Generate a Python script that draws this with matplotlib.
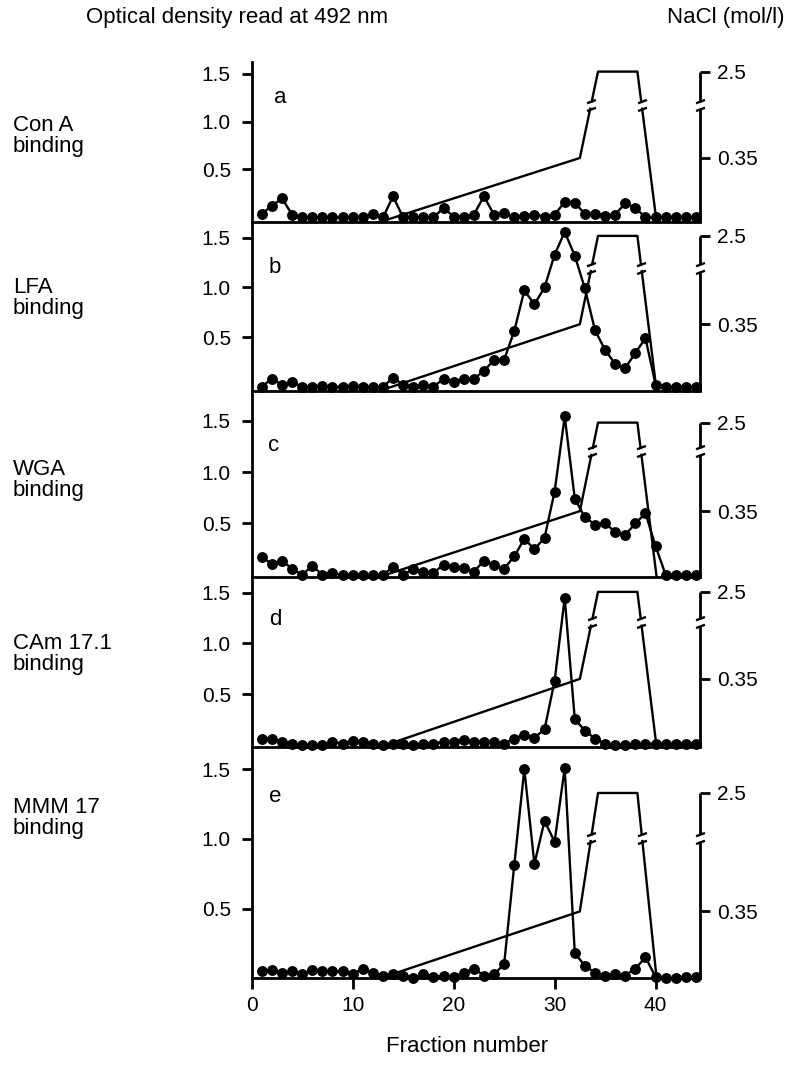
import numpy as np
import matplotlib
matplotlib.use("Agg")
import matplotlib.pyplot as plt
from matplotlib.path import Path

plt.rcParams['font.family'] = ['Liberation Sans', 'DejaVu Sans']

# fraction numbers
fractions = np.arange(1, 45)

# optical density at 492 nm, one list per panel
od_con_a = [0.04, 0.12, 0.20, 0.03, 0.0, 0.0, 0.0, 0.0, 0.0, 0.0,
            0.0, 0.04, 0.0, 0.22, 0.0, 0.0, 0.0, 0.0, 0.10, 0.01,
            0.01, 0.03, 0.22, 0.03, 0.05, 0.0, 0.02, 0.03, 0.01, 0.03,
            0.16, 0.15, 0.04, 0.04, 0.02, 0.03, 0.15, 0.10, 0.0, 0.0,
            0.0, 0.0, 0.0, 0.0]
od_lfa = [0.0, 0.08, 0.02, 0.05, 0.0, 0.0, 0.01, 0.0, 0.0, 0.01,
          0.0, 0.0, 0.0, 0.09, 0.02, 0.0, 0.02, 0.0, 0.08, 0.05,
          0.08, 0.08, 0.16, 0.27, 0.27, 0.56, 0.97, 0.83, 1.00, 1.33,
          1.56, 1.32, 0.99, 0.57, 0.37, 0.23, 0.19, 0.34, 0.49, 0.02,
          0.0, 0.0, 0.0, 0.0]
od_wga = [0.17, 0.11, 0.14, 0.06, 0.0, 0.09, 0.0, 0.02, 0.0, 0.0,
          0.0, 0.0, 0.0, 0.08, 0.0, 0.06, 0.03, 0.02, 0.10, 0.08,
          0.07, 0.03, 0.14, 0.10, 0.06, 0.18, 0.35, 0.25, 0.36, 0.81,
          1.54, 0.74, 0.56, 0.49, 0.50, 0.42, 0.39, 0.50, 0.60, 0.28,
          0.0, 0.0, 0.0, 0.0]
od_cam = [0.06, 0.06, 0.03, 0.01, 0.0, 0.0, 0.0, 0.03, 0.01, 0.04,
          0.03, 0.01, 0.0, 0.01, 0.01, 0.0, 0.01, 0.01, 0.03, 0.03,
          0.05, 0.03, 0.03, 0.03, 0.01, 0.06, 0.10, 0.07, 0.15, 0.63,
          1.45, 0.25, 0.14, 0.06, 0.01, 0.0, 0.0, 0.01, 0.01, 0.01,
          0.01, 0.01, 0.01, 0.01]
od_mmm = [0.05, 0.06, 0.04, 0.05, 0.03, 0.06, 0.05, 0.05, 0.05, 0.03,
          0.07, 0.04, 0.02, 0.03, 0.02, 0.0, 0.03, 0.01, 0.02, 0.01,
          0.04, 0.07, 0.02, 0.03, 0.10, 0.81, 1.50, 0.82, 1.13, 0.98,
          1.51, 0.18, 0.09, 0.04, 0.02, 0.03, 0.02, 0.07, 0.15, 0.01,
          0.0, 0.0, 0.01, 0.01]

panel_od = [od_con_a, od_lfa, od_wga, od_cam, od_mmm]
panel_letters = ['a', 'b', 'c', 'd', 'e']
panel_names = ['Con A\nbinding', 'LFA\nbinding', 'WGA\nbinding',
               'CAm 17.1\nbinding', 'MMM 17\nbinding']

# NaCl elution profile (fraction, mol/l)
nacl_fraction = [12.7, 32.5, 34.3, 38.2, 40.1]
nacl_conc = [0.0, 0.35, 2.5, 2.5, 0.0]

od_ticks = [0.5, 1.0, 1.5]
od_tick_labels = ['0.5', '1.0', '1.5']
frac_ticks = [0, 10, 20, 30, 40]

# layout (pixels of the 789x1068 figure)
W, H = 789, 1068
X0, X1 = 251.7, 700
tops = [62, 222, 390.7, 576.7, 747]
bottoms = [222, 390.7, 576.7, 747, 978.3]
ylims = [(-0.047, 1.62), (-0.04, 1.66), (-0.017, 1.79), (-0.023, 1.66), (0.0, 1.66)]
# where 0.35, 2.5 and the axis break sit on each panel's right axis (OD units)
nacl_pos = [(0.62, 1.52, 1.17), (0.63, 1.52, 1.20), (0.62, 1.48, 1.20),
            (0.65, 1.51, 1.21), (0.48, 1.33, 1.01)]
letter_pos = [(0.063, 0.78), (0.052, 0.733), (0.048, 0.708), (0.052, 0.746), (0.052, 0.784)]
name_y = [136, 298, 480, 654, 818]

LW = 1.7
SPINE_LW = 2.0
FS = 15
TFS = 16

break_mark = Path([(-1, -1.25), (1, -0.5), (-1, 0.5), (1, 1.25)],
                  [Path.MOVETO, Path.LINETO, Path.MOVETO, Path.LINETO])

fig = plt.figure(figsize=(W / 100, H / 100), dpi=100)


def x_at(p, q, y):
    return p[0] + (y - p[1]) * (q[0] - p[0]) / (q[1] - p[1])


for i in range(5):
    top, bot = tops[i], bottoms[i]
    ax = fig.add_axes([X0 / W, 1 - bot / H, (X1 - X0) / W, (bot - top) / H])
    ylo, yhi = ylims[i]
    ax.set_xlim(0, 44.4)
    ax.set_ylim(ylo, yhi)
    px_per_unit = (bot - top) / (yhi - ylo)
    d = 3.5 / px_per_unit

    # binding curve
    ax.plot(fractions, panel_od[i], color='black', lw=LW, marker='o', ms=6.8,
            clip_on=False, zorder=4)

    # NaCl gradient, drawn on the broken right scale
    y035, y25, ybrk = nacl_pos[i]
    ny = np.interp(nacl_conc, [0.0, 0.35, 2.5], [ylo, y035, y25])
    pts = list(zip(nacl_fraction, ny))
    up_lo = x_at(pts[1], pts[2], ybrk - d)
    up_hi = x_at(pts[1], pts[2], ybrk + d)
    dn_hi = x_at(pts[3], pts[4], ybrk + d)
    dn_lo = x_at(pts[3], pts[4], ybrk - d)
    lx = [pts[0][0], pts[1][0], up_lo, np.nan, up_hi, pts[2][0], pts[3][0], dn_hi,
          np.nan, dn_lo, pts[4][0]]
    ly = [pts[0][1], pts[1][1], ybrk - d, np.nan, ybrk + d, pts[2][1], pts[3][1],
          ybrk + d, np.nan, ybrk - d, pts[4][1]]
    ax.plot(lx, ly, color='black', lw=LW, clip_on=False, zorder=3)
    ax.plot([x_at(pts[1], pts[2], ybrk), x_at(pts[3], pts[4], ybrk)], [ybrk, ybrk],
            ls='none', marker=break_mark, ms=8, mec='black', mew=LW, zorder=3)

    # spines
    for s in ['top', 'right']:
        ax.spines[s].set_visible(False)
    ax.spines['left'].set_linewidth(SPINE_LW)
    ax.spines['bottom'].set_linewidth(SPINE_LW)
    ax.patch.set_visible(False)

    ax.set_yticks(od_ticks, od_tick_labels)
    ax.tick_params(axis='y', direction='out', length=7, width=SPINE_LW,
                   labelsize=FS, pad=8)
    if i < 4:
        ax.tick_params(axis='x', bottom=False, labelbottom=False)
    else:
        ax.set_xticks(frac_ticks)
        ax.tick_params(axis='x', direction='out', length=8, width=SPINE_LW,
                       labelsize=FS, pad=5)

    # right (NaCl) axis with a break
    yt = ax.get_yaxis_transform()
    ax.plot([1, 1], [ylo, ybrk - d], color='black', lw=SPINE_LW, transform=yt,
            clip_on=False, solid_capstyle='butt')
    ax.plot([1, 1], [ybrk + d, y25], color='black', lw=SPINE_LW, transform=yt,
            clip_on=False, solid_capstyle='butt')
    ax.plot([1], [ybrk], ls='none', marker=break_mark, ms=8, mec='black',
            mew=LW, transform=yt, clip_on=False)
    tw = ax.twinx()
    tw.set_ylim(ylo, yhi)
    for s in tw.spines.values():
        s.set_visible(False)
    tw.set_yticks([y035, y25], ['0.35', '2.5'])
    tw.tick_params(axis='y', direction='out', length=7, width=SPINE_LW,
                   labelsize=FS, pad=5)

    ax.text(letter_pos[i][0], letter_pos[i][1], panel_letters[i], transform=ax.transAxes,
            fontsize=TFS, ha='center', va='center')
    fig.text(13 / W, 1 - name_y[i] / H, panel_names[i], fontsize=TFS,
             ha='left', va='center', linespacing=1.0)

fig.text(86 / W, 1 - 18 / H, 'Optical density read at 492 nm', fontsize=TFS,
         ha='left', va='center')
fig.text(667 / W, 1 - 18 / H, 'NaCl (mol/l)', fontsize=TFS, ha='left', va='center')
fig.text(467 / W, 1 - 1047 / H, 'Fraction number', fontsize=TFS,
         ha='center', va='center')

fig.savefig('out.png', dpi=100)
